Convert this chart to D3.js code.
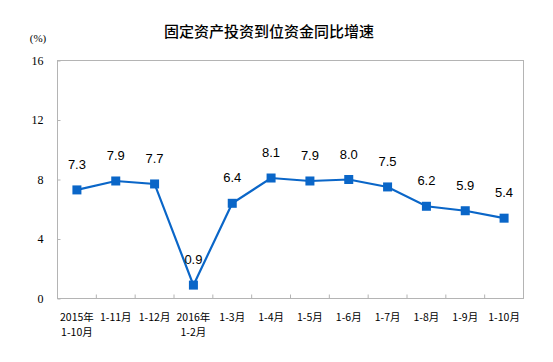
<!DOCTYPE html>
<html><head><meta charset="utf-8">
<script src="https://cdn.jsdelivr.net/npm/d3@7"></script>
<style>body{margin:0;background:#fff}</style>
</head><body>
<svg id="c" width="553" height="362"></svg>
<script>
const categories = [["2015年","1-10月"],["1-11月"],["1-12月"],["2016年","1-2月"],["1-3月"],["1-4月"],["1-5月"],["1-6月"],["1-7月"],["1-8月"],["1-9月"],["1-10月"]];
const values = [7.3, 7.9, 7.7, 0.9, 6.4, 8.1, 7.9, 8.0, 7.5, 6.2, 5.9, 5.4];
const yTicks = [0, 4, 8, 12, 16];
const title = "固定资产投资到位资金同比增速";
const unit = "(%)";

const svg = d3.select("#c");
const L = 57.5, R = 523.5, T = 60.5, B = 298.5;
const x = d3.scaleBand().domain(d3.range(categories.length)).range([L, R]);
const y = d3.scaleLinear().domain([0, 16]).range([B, T]);
const grey = "#b4b4b4";
const blue = "#0a66c8";

// frame
svg.append("rect").attr("x", L).attr("y", T).attr("width", R - L).attr("height", B - T)
  .attr("fill", "none").attr("stroke", grey).attr("stroke-width", 1);

// y axis
const ya = svg.append("g").attr("transform", `translate(${L},0)`)
  .call(d3.axisLeft(y).tickValues(yTicks).tickSize(-3).tickPadding(14));
ya.select(".domain").remove();
ya.selectAll("line").attr("stroke", grey);
ya.selectAll("text").attr("font-family", "Liberation Serif").attr("font-size", 12).attr("fill", "#000");

// x ticks (inside)
const xt = d3.range(1, categories.length).map(i => x(i));
svg.append("g").selectAll("line").data(xt).join("line")
  .attr("x1", d => d).attr("x2", d => d).attr("y1", B).attr("y2", B - 4)
  .attr("stroke", grey);

// x labels
const xl = svg.append("g");
categories.forEach((lines, i) => {
  lines.forEach((t, j) => {
    xl.append("text").attr("x", x(i) + x.bandwidth() / 2).attr("y", 321 + j * 15)
      .attr("text-anchor", "middle").attr("font-family", "Noto Sans CJK SC").attr("font-size", 10.5)
      .attr("fill", "#000").text(t);
  });
});

// line
const cx = i => x(i) + x.bandwidth() / 2;
svg.append("path").datum(values)
  .attr("d", d3.line().x((d, i) => cx(i)).y(d => y(d)))
  .attr("fill", "none").attr("stroke", blue).attr("stroke-width", 2.2);
svg.append("g").selectAll("rect").data(values).join("rect")
  .attr("x", (d, i) => cx(i) - 4.5).attr("y", d => y(d) - 4.5)
  .attr("width", 9).attr("height", 9).attr("fill", blue);

// data labels
svg.append("g").selectAll("text").data(values).join("text")
  .attr("x", (d, i) => cx(i)).attr("y", d => y(d) - 21)
  .attr("text-anchor", "middle").attr("font-family", "Liberation Sans").attr("font-size", 13)
  .attr("fill", "#000").text(d => d.toFixed(1));

// title
svg.append("text").attr("x", 269).attr("y", 37).attr("text-anchor", "middle")
  .attr("font-family", "Noto Sans CJK SC").attr("font-size", 15).attr("font-weight", 500)
  .attr("fill", "#000").text(title);
svg.append("text").attr("x", 38).attr("y", 42).attr("text-anchor", "middle")
  .attr("font-family", "Liberation Serif").attr("font-size", 11).attr("fill", "#000").text(unit);
</script>
</body></html>
